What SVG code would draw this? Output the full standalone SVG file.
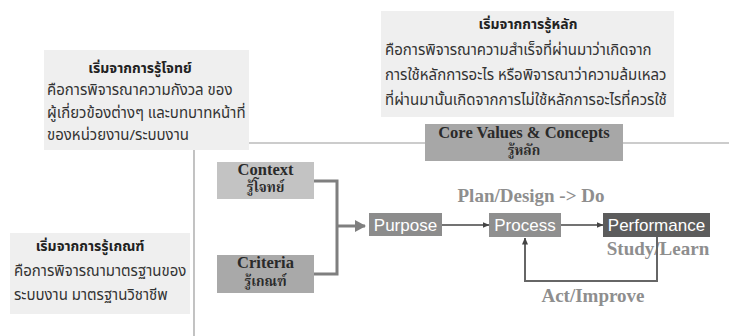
<svg xmlns="http://www.w3.org/2000/svg" width="729" height="336" viewBox="0 0 729 336">
  <defs>
    <marker id="head-big" markerWidth="11" markerHeight="12" refX="10" refY="6" orient="auto" markerUnits="userSpaceOnUse">
      <path d="M0,0 L11,6 L0,12 Z" fill="#7f7f7f"/>
    </marker>
    <marker id="head-small" markerWidth="7" markerHeight="7" refX="6.5" refY="3.5" orient="auto" markerUnits="userSpaceOnUse">
      <path d="M0,0.5 L7,3.5 L0,6.5 Z" fill="#444"/>
    </marker>
  </defs>
  <style>
    .note { fill: #efefef; }
    .th { font-family: "Noto Sans Thai", "Tahoma", "Noto Sans", "DejaVu Sans", sans-serif; font-size: 15px; fill: #333; }
    .th-b { font-weight: bold; font-size: 14px; fill: #222; }
    .th-sub { font-family: "Noto Serif Thai", "Noto Sans Thai", "Tahoma", serif; font-weight: bold; font-size: 13.5px; fill: #2a2a2a; }
    .serif-b { font-family: "Liberation Serif", "Times New Roman", serif; font-weight: bold; }
    .sans { font-family: "Liberation Sans", Arial, sans-serif; }
    .guide { stroke: #9a9a9a; stroke-width: 1.2; fill: none; }
    .box-label { font-size: 17px; fill: #fff; }
    .phase { font-size: 19px; fill: #8e8e8e; }
    .box-title { font-size: 16.5px; fill: #2a2a2a; }
  </style>

  <!-- frame lines -->
  <g id="frame">
    <line class="guide" x1="248" y1="143" x2="729" y2="143"/>
    <line class="guide" x1="194" y1="150" x2="194" y2="336"/>
  </g>

  <!-- explanatory notes -->
  <g id="note-principle">
    <rect class="note" x="381" y="11" width="293" height="106"/>
    <text class="th th-b" x="528" y="29" text-anchor="middle">เริ่มจากการรู้หลัก</text>
    <text class="th" x="385" y="55">คือการพิจารณาความสำเร็จที่ผ่านมาว่าเกิดจาก</text>
    <text class="th" x="385" y="80">การใช้หลักการอะไร หรือพิจารณาว่าความล้มเหลว</text>
    <text class="th" x="385" y="105">ที่ผ่านมานั้นเกิดจากการไม่ใช้หลักการอะไรที่ควรใช้</text>
  </g>

  <g id="note-context">
    <rect class="note" x="44" y="50" width="205" height="100"/>
    <text class="th th-b" x="140" y="73" text-anchor="middle">เริ่มจากการรู้โจทย์</text>
    <text class="th" x="47" y="95">คือการพิจารณาความกังวล ของ</text>
    <text class="th" x="47" y="118">ผู้เกี่ยวข้องต่างๆ และบทบาทหน้าที่</text>
    <text class="th" x="47" y="140">ของหน่วยงาน/ระบบงาน</text>
  </g>

  <g id="note-criteria">
    <rect class="note" x="10" y="233" width="180" height="81"/>
    <text class="th th-b" x="90" y="251" text-anchor="middle">เริ่มจากการรู้เกณฑ์</text>
    <text class="th" x="14" y="276">คือการพิจารณามาตรฐานของ</text>
    <text class="th" x="14" y="300">ระบบงาน มาตรฐานวิชาชีพ</text>
  </g>

  <!-- input boxes -->
  <g id="core-values">
    <rect x="425" y="124" width="198" height="37" fill="#a7a7a7"/>
    <text class="serif-b box-title" x="524" y="138" text-anchor="middle">Core Values &amp; Concepts</text>
    <text class="th-sub" x="524" y="155" text-anchor="middle">รู้หลัก</text>
  </g>

  <g id="context">
    <rect x="217" y="162" width="97" height="37" fill="#c3c3c3"/>
    <text class="serif-b box-title" x="265.5" y="175" text-anchor="middle">Context</text>
    <text class="th-sub" x="265.5" y="192" text-anchor="middle">รู้โจทย์</text>
  </g>

  <g id="criteria">
    <rect x="217" y="255" width="97" height="38" fill="#a9a9a9"/>
    <text class="serif-b box-title" x="265.5" y="268" text-anchor="middle">Criteria</text>
    <text class="th-sub" x="265.5" y="286" text-anchor="middle">รู้เกณฑ์</text>
  </g>

  <!-- process chain -->
  <g id="purpose">
    <rect x="369" y="213" width="73" height="23" fill="#8c8c8c"/>
    <text class="sans box-label" x="405.5" y="231" text-anchor="middle">Purpose</text>
  </g>

  <g id="process">
    <rect x="489" y="213" width="72" height="24" fill="#8f8f8f"/>
    <text class="sans box-label" x="525" y="231" text-anchor="middle">Process</text>
  </g>

  <g id="performance">
    <rect x="603" y="213" width="107" height="24" fill="#5c5c5c"/>
    <text class="sans box-label" x="656.5" y="231" text-anchor="middle">Performance</text>
  </g>

  <!-- cycle labels -->
  <g id="labels">
    <text class="serif-b phase" x="531" y="202" text-anchor="middle">Plan/Design -&gt; Do</text>
    <text class="serif-b phase" x="658" y="255" text-anchor="middle">Study/Learn</text>
    <text class="serif-b phase" x="593" y="302" text-anchor="middle">Act/Improve</text>
  </g>

  <!-- connectors -->
  <g id="connectors" fill="none">
    <path d="M314,181 H337 V274 H314" stroke="#7f7f7f" stroke-width="3"/>
    <line x1="337" y1="226" x2="365" y2="226" stroke="#7f7f7f" stroke-width="3" marker-end="url(#head-big)"/>
    <line x1="442" y1="225" x2="489" y2="225" stroke="#444" stroke-width="1.5" marker-end="url(#head-small)"/>
    <line x1="561" y1="225" x2="603" y2="225" stroke="#444" stroke-width="1.5" marker-end="url(#head-small)"/>
    <path d="M657,237 V281 H525 V238" stroke="#666" stroke-width="2" marker-end="url(#head-small)"/>
  </g>
</svg>
